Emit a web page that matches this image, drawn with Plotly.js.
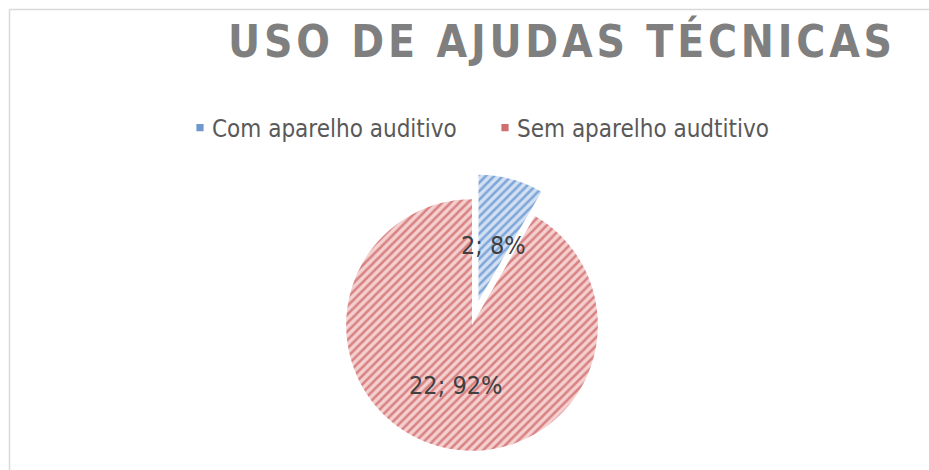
<!DOCTYPE html>
<html>
<head>
<meta charset="utf-8">
<script src="https://cdn.plot.ly/plotly-3.0.1.min.js"></script>
<style>
  html, body { margin: 0; padding: 0; background: #ffffff; overflow: hidden; }
  #wrap { width: 929px; height: 470px; overflow: hidden; position: relative; }
  #chart { width: 929px; height: 500px; }
  .gtitle { letter-spacing: 3.8px; }
  .legendpie { transform: translate(28px, 0px) scale(0.6); }
  .legend .traces:nth-of-type(1) .legendpie { fill: #6f98cf !important; }
  .legend .traces:nth-of-type(2) .legendpie { fill: #d16e6e !important; }
</style>
</head>
<body>
<div id="wrap"><div id="chart"></div></div>
<script>
// ---- data ----
const categories = ['Com aparelho auditivo', 'Sem aparelho audtitivo'];
const values = [2, 22];
const stripeColors = ['#7ea6d8', '#d98282'];
const baseColors = ['#d2e0f2', '#f4d0d0'];
const chartTitle = 'USO DE AJUDAS TÉCNICAS';

// ---- layout helpers (pixel -> paper) ----
const W = 929, H = 500;
const px = x => x / W;
const py = y => 1 - y / H;
const FONT = '"Liberation Sans Narrow", "DejaVu Sans Condensed", "Liberation Sans", sans-serif';

const total = values.reduce((a, b) => a + b, 0);
const labelText = i => values[i] + '; ' + Math.round(values[i] / total * 100) + '%';

const cx = 472, cy = 325, half = 151;

const trace = {
  type: 'pie',
  labels: categories,
  values: values,
  sort: false,
  direction: 'clockwise',
  rotation: 0,
  pull: [0.2, 0],
  marker: {
    colors: baseColors,
    line: { width: 0 },
    pattern: { shape: '/', fgcolor: stripeColors, bgcolor: baseColors, size: 6, solidity: 0.42 }
  },
  texttemplate: '%{value}; %{percent:.0%}',
  textposition: ['none', 'inside'],
  insidetextorientation: 'horizontal',
  textfont: { family: FONT, size: 25, color: '#404040' },
  hoverinfo: 'none',
  domain: { x: [px(cx - half), px(cx + half)], y: [py(cy + half), py(cy - half)] }
};

const layout = {
  width: W, height: H,
  margin: { l: 0, r: 0, t: 0, b: 0 },
  paper_bgcolor: '#ffffff',
  title: {
    text: chartTitle,
    x: px(562), xanchor: 'center',
    y: py(42), yanchor: 'middle',
    font: { family: FONT, size: 44, color: '#7f7f7f', weight: 'bold' }
  },
  showlegend: true,
  legend: {
    orientation: 'h',
    x: px(172), xanchor: 'left',
    y: py(128), yanchor: 'middle',
    font: { family: FONT, size: 24, color: '#595959' },
    entrywidth: 260, entrywidthmode: 'pixels',
    traceorder: 'normal'
  },
  annotations: [
    { xref: 'paper', yref: 'paper', x: px(494), y: py(245), xanchor: 'center', yanchor: 'middle',
      text: labelText(0), showarrow: false, font: { family: FONT, size: 25, color: '#404040' } }
  ],
  shapes: [
    { type: 'line', xref: 'paper', yref: 'paper', x0: px(9.5), x1: 1, y0: py(9.5), y1: py(9.5), line: { color: '#d9d9d9', width: 1.5 } },
    { type: 'line', xref: 'paper', yref: 'paper', x0: px(9.5), x1: px(9.5), y0: py(9.5), y1: 0, line: { color: '#d9d9d9', width: 1.5 } }
  ]
};

Plotly.newPlot('chart', [trace], layout, { displayModeBar: false, staticPlot: true });
</script>
</body>
</html>
